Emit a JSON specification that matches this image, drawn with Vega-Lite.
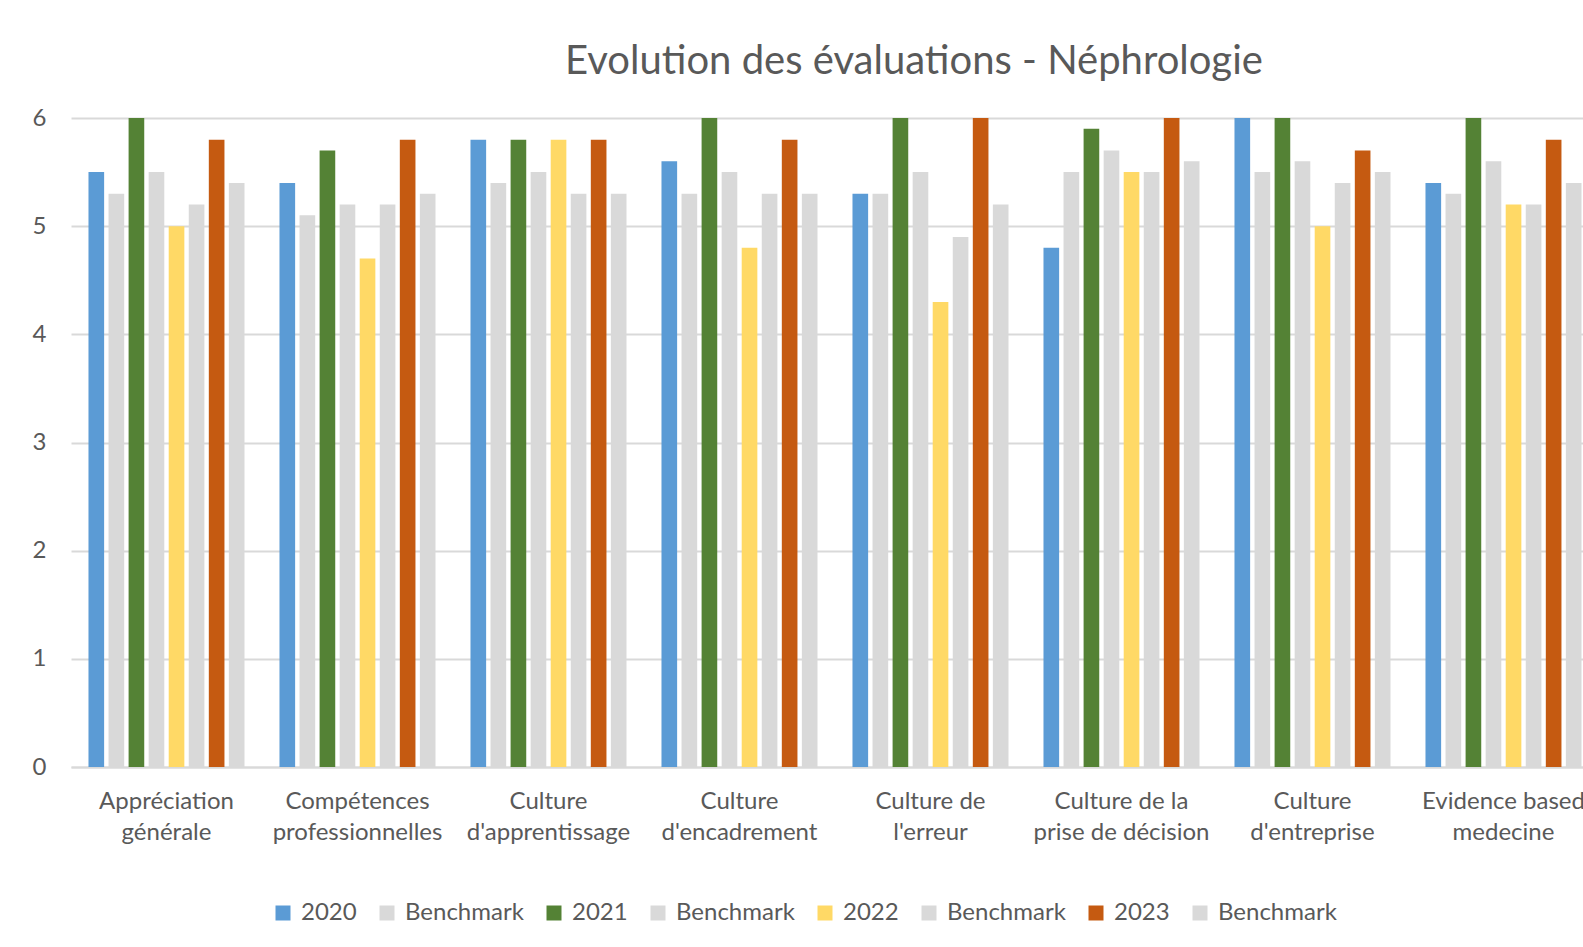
{
  "$schema": "https://vega.github.io/schema/vega-lite/v6.json",
  "width": 1512,
  "height": 649,
  "autosize": {"type": "none"},
  "padding": {"left": 71, "top": 118, "right": 0, "bottom": 180},
  "background": "white",
  "title": {
    "text": "Evolution des évaluations - Néphrologie",
    "font": "Lato",
    "fontSize": 40,
    "fontWeight": "normal",
    "color": "#595959",
    "anchor": "middle",
    "dx": 87,
    "offset": 24
  },
  "config": {
    "view": {"stroke": null},
    "font": "Lato"
  },
  "data": {
    "values": [
      {"category": "Appréciation générale", "series": "2020", "value": 5.5},
      {"category": "Appréciation générale", "series": "Benchmark 2020", "value": 5.3},
      {"category": "Appréciation générale", "series": "2021", "value": 6},
      {"category": "Appréciation générale", "series": "Benchmark 2021", "value": 5.5},
      {"category": "Appréciation générale", "series": "2022", "value": 5.0},
      {"category": "Appréciation générale", "series": "Benchmark 2022", "value": 5.2},
      {"category": "Appréciation générale", "series": "2023", "value": 5.8},
      {"category": "Appréciation générale", "series": "Benchmark 2023", "value": 5.4},
      {"category": "Compétences professionnelles", "series": "2020", "value": 5.4},
      {"category": "Compétences professionnelles", "series": "Benchmark 2020", "value": 5.1},
      {"category": "Compétences professionnelles", "series": "2021", "value": 5.7},
      {"category": "Compétences professionnelles", "series": "Benchmark 2021", "value": 5.2},
      {"category": "Compétences professionnelles", "series": "2022", "value": 4.7},
      {"category": "Compétences professionnelles", "series": "Benchmark 2022", "value": 5.2},
      {"category": "Compétences professionnelles", "series": "2023", "value": 5.8},
      {"category": "Compétences professionnelles", "series": "Benchmark 2023", "value": 5.3},
      {"category": "Culture d'apprentissage", "series": "2020", "value": 5.8},
      {"category": "Culture d'apprentissage", "series": "Benchmark 2020", "value": 5.4},
      {"category": "Culture d'apprentissage", "series": "2021", "value": 5.8},
      {"category": "Culture d'apprentissage", "series": "Benchmark 2021", "value": 5.5},
      {"category": "Culture d'apprentissage", "series": "2022", "value": 5.8},
      {"category": "Culture d'apprentissage", "series": "Benchmark 2022", "value": 5.3},
      {"category": "Culture d'apprentissage", "series": "2023", "value": 5.8},
      {"category": "Culture d'apprentissage", "series": "Benchmark 2023", "value": 5.3},
      {"category": "Culture d'encadrement", "series": "2020", "value": 5.6},
      {"category": "Culture d'encadrement", "series": "Benchmark 2020", "value": 5.3},
      {"category": "Culture d'encadrement", "series": "2021", "value": 6},
      {"category": "Culture d'encadrement", "series": "Benchmark 2021", "value": 5.5},
      {"category": "Culture d'encadrement", "series": "2022", "value": 4.8},
      {"category": "Culture d'encadrement", "series": "Benchmark 2022", "value": 5.3},
      {"category": "Culture d'encadrement", "series": "2023", "value": 5.8},
      {"category": "Culture d'encadrement", "series": "Benchmark 2023", "value": 5.3},
      {"category": "Culture de l'erreur", "series": "2020", "value": 5.3},
      {"category": "Culture de l'erreur", "series": "Benchmark 2020", "value": 5.3},
      {"category": "Culture de l'erreur", "series": "2021", "value": 6},
      {"category": "Culture de l'erreur", "series": "Benchmark 2021", "value": 5.5},
      {"category": "Culture de l'erreur", "series": "2022", "value": 4.3},
      {"category": "Culture de l'erreur", "series": "Benchmark 2022", "value": 4.9},
      {"category": "Culture de l'erreur", "series": "2023", "value": 6},
      {"category": "Culture de l'erreur", "series": "Benchmark 2023", "value": 5.2},
      {"category": "Culture de la prise de décision", "series": "2020", "value": 4.8},
      {"category": "Culture de la prise de décision", "series": "Benchmark 2020", "value": 5.5},
      {"category": "Culture de la prise de décision", "series": "2021", "value": 5.9},
      {"category": "Culture de la prise de décision", "series": "Benchmark 2021", "value": 5.7},
      {"category": "Culture de la prise de décision", "series": "2022", "value": 5.5},
      {"category": "Culture de la prise de décision", "series": "Benchmark 2022", "value": 5.5},
      {"category": "Culture de la prise de décision", "series": "2023", "value": 6},
      {"category": "Culture de la prise de décision", "series": "Benchmark 2023", "value": 5.6},
      {"category": "Culture d'entreprise", "series": "2020", "value": 6},
      {"category": "Culture d'entreprise", "series": "Benchmark 2020", "value": 5.5},
      {"category": "Culture d'entreprise", "series": "2021", "value": 6},
      {"category": "Culture d'entreprise", "series": "Benchmark 2021", "value": 5.6},
      {"category": "Culture d'entreprise", "series": "2022", "value": 5.0},
      {"category": "Culture d'entreprise", "series": "Benchmark 2022", "value": 5.4},
      {"category": "Culture d'entreprise", "series": "2023", "value": 5.7},
      {"category": "Culture d'entreprise", "series": "Benchmark 2023", "value": 5.5},
      {"category": "Evidence based medecine", "series": "2020", "value": 5.4},
      {"category": "Evidence based medecine", "series": "Benchmark 2020", "value": 5.3},
      {"category": "Evidence based medecine", "series": "2021", "value": 6},
      {"category": "Evidence based medecine", "series": "Benchmark 2021", "value": 5.6},
      {"category": "Evidence based medecine", "series": "2022", "value": 5.2},
      {"category": "Evidence based medecine", "series": "Benchmark 2022", "value": 5.2},
      {"category": "Evidence based medecine", "series": "2023", "value": 5.8},
      {"category": "Evidence based medecine", "series": "Benchmark 2023", "value": 5.4}
    ]
  },
  "mark": {"type": "bar"},
  "encoding": {
    "x": {
      "field": "category",
      "type": "nominal",
      "sort": null,
      "title": null,
      "scale": {"range": [0, 1528], "paddingInner": 0.16, "paddingOuter": 0.08},
      "axis": {
        "labelAngle": 0,
        "labelFont": "Lato",
        "labelFontSize": 24,
        "labelColor": "#595959",
        "labelLineHeight": 31,
        "labelPadding": 22,
        "labelLimit": 400,
        "ticks": false,
        "domainColor": "#D9D9D9",
        "domainWidth": 2,
        "grid": false,
        "labelExpr": "datum.label == \"Culture de l'erreur\" ? ['Culture de', \"l'erreur\"] : datum.label == 'Culture de la prise de décision' ? ['Culture de la', 'prise de décision'] : datum.label == 'Evidence based medecine' ? ['Evidence based', 'medecine'] : split(datum.label, ' ')"
      }
    },
    "xOffset": {
      "field": "series",
      "type": "nominal",
      "sort": ["2020", "Benchmark 2020", "2021", "Benchmark 2021", "2022", "Benchmark 2022", "2023", "Benchmark 2023"],
      "scale": {"paddingInner": 0.22, "paddingOuter": 0.11}
    },
    "y": {
      "field": "value",
      "type": "quantitative",
      "title": null,
      "scale": {"domain": [0, 6], "nice": false},
      "axis": {
        "tickCount": 6,
        "labelFont": "Lato",
        "labelFontSize": 24,
        "labelColor": "#595959",
        "labelPadding": 25,
        "ticks": false,
        "domain": false,
        "gridColor": "#D9D9D9",
        "gridWidth": 2
      }
    },
    "color": {
      "field": "series",
      "type": "nominal",
      "sort": ["2020", "Benchmark 2020", "2021", "Benchmark 2021", "2022", "Benchmark 2022", "2023", "Benchmark 2023"],
      "scale": {
        "domain": ["2020", "Benchmark 2020", "2021", "Benchmark 2021", "2022", "Benchmark 2022", "2023", "Benchmark 2023"],
        "range": ["#5B9BD5", "#D9D9D9", "#548235", "#D9D9D9", "#FFD966", "#D9D9D9", "#C55A11", "#D9D9D9"]
      },
      "legend": {
        "title": null,
        "orient": "none",
        "direction": "horizontal",
        "legendX": 200,
        "legendY": 783,
        "symbolType": "square",
        "symbolSize": 225,
        "symbolStrokeWidth": 0,
        "labelFont": "Lato",
        "labelFontSize": 24,
        "labelColor": "#595959",
        "labelOffset": 6,
        "columnPadding": 18,
        "labelExpr": "indexof(datum.label, 'Benchmark') == 0 ? 'Benchmark' : datum.label"
      }
    }
  }
}
